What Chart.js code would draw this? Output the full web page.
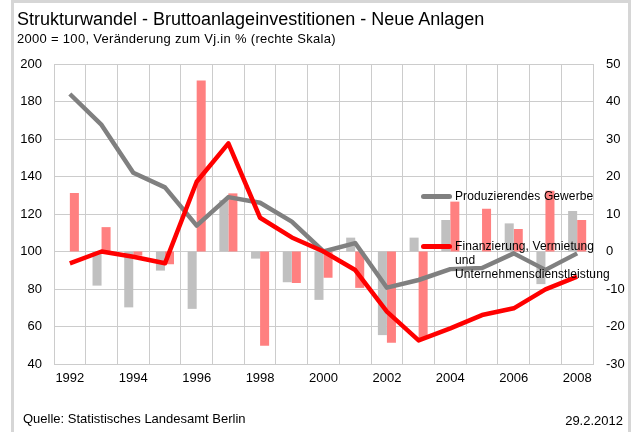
<!DOCTYPE html>
<html>
<head>
<meta charset="utf-8">
<script src="https://cdn.jsdelivr.net/npm/chart.js@4/dist/chart.umd.min.js"></script>
<style>
  html, body { margin: 0; padding: 0; background: #fff; }
  body { width: 631px; height: 432px; position: relative; overflow: hidden; font-family: "Liberation Sans", Arial, sans-serif; color: #000; }
  #frame { position: absolute; left: 11px; top: 0; width: 614px; height: 440px; border: 3px solid #d6d6d6; border-bottom: none; box-sizing: content-box; }
  #wrap { position: absolute; left: 0; top: 0; width: 631px; height: 432px; }
  .txt { position: absolute; white-space: nowrap; }
  #title { left: 17px; top: 10px; font-size: 18px; line-height: 18px; }
  #subtitle { left: 17px; top: 32px; font-size: 13px; line-height: 13px; letter-spacing: 0.3px; }
  #source { left: 23px; top: 412px; font-size: 13px; line-height: 13px; }
  #date { right: 8px; top: 414px; font-size: 13px; line-height: 13px; }
  .leg { position: absolute; left: 421px; font-size: 12px; line-height: 14px; }
  .leg .sw { position: absolute; left: 0; width: 31px; height: 5px; border-radius: 2.5px; }
  .leg .lt { position: absolute; left: 34px; white-space: normal; width: 150px; letter-spacing: 0.1px; }
</style>
</head>
<body>
<div id="wrap"><canvas id="c" width="631" height="432"></canvas></div>
<div id="frame"></div>
<div id="title" class="txt"></div>
<div id="subtitle" class="txt"></div>
<div id="source" class="txt"></div>
<div id="date" class="txt"></div>
<div id="leg1" class="leg" style="top:189px"><div class="sw" style="top:5px;background:#808080"></div><div class="lt"></div></div>
<div id="leg2" class="leg" style="top:239px"><div class="sw" style="top:5px;background:#ff0000"></div><div class="lt"></div></div>
<script>
const titleText = "Strukturwandel - Bruttoanlageinvestitionen - Neue Anlagen";
const subtitleText = "2000 = 100, Veränderung zum Vj.in % (rechte Skala)";
const sourceText = "Quelle: Statistisches Landesamt Berlin";
const dateText = "29.2.2012";

const years = ["1992","1993","1994","1995","1996","1997","1998","1999","2000","2001","2002","2003","2004","2005","2006","2007","2008"];

const seriesNameProd = "Produzierendes Gewerbe";
const seriesNameFin = "Finanzierung, Vermietung und Unternehmensdienstleistung";

// Index 2000 = 100 (left axis)
const prodIndex = [184, 167.5, 142, 134.2, 113.8, 129, 126, 115.9, 100, 104.5, 80.7, 84.8, 90.6, 91.2, 99, 90.2, 99];
const finIndex  = [93.7, 100, 97.2, 93.7, 137.2, 157.7, 118, 107.5, 100, 90.1, 67.9, 52.6, 59, 66.1, 69.7, 79.8, 86.6];

// Change to previous year in % (right axis)
const prodChange = [null, -9.1, -14.9, -5.1, -15.3, 13.7, -1.9, -8.2, -12.9, 3.7, -22.3, 3.7, 8.4, 0.2, 7.5, -8.7, 10.8];
const finChange  = [15.6, 6.5, -1.1, -3.4, 45.6, 15.5, -25.1, -8.4, -7.0, -9.7, -24.3, -23.1, 13.3, 11.4, 6.0, 16.2, 8.4];

const leftTicks = { min: 40, max: 200, step: 20 };
const rightTicks = { min: -30, max: 50, step: 10 };

document.getElementById('title').textContent = titleText;
document.getElementById('subtitle').textContent = subtitleText;
document.getElementById('source').textContent = sourceText;
document.getElementById('date').textContent = dateText;
document.querySelector('#leg1 .lt').textContent = seriesNameProd;
document.querySelector('#leg2 .lt').textContent = seriesNameFin;

const gridColor = '#cccccc';
const tickFont = { family: '"Liberation Sans", Arial, sans-serif', size: 13 };

new Chart(document.getElementById('c'), {
  data: {
    labels: years,
    datasets: [
      { type: 'line', label: seriesNameFin, data: finIndex, yAxisID: 'y', borderColor: '#ff0000', borderWidth: 4.5, pointRadius: 0, tension: 0, order: 0, borderJoinStyle: 'round' },
      { type: 'line', label: seriesNameProd, data: prodIndex, yAxisID: 'y', borderColor: '#808080', borderWidth: 4.5, pointRadius: 0, tension: 0, order: 1, borderJoinStyle: 'round' },
      { type: 'bar', label: seriesNameProd + ' (Vj. %)', data: prodChange, yAxisID: 'y1', backgroundColor: '#c0c0c0', borderWidth: 0, order: 2, barPercentage: 1, categoryPercentage: 0.57 },
      { type: 'bar', label: seriesNameFin + ' (Vj. %)', data: finChange, yAxisID: 'y1', backgroundColor: '#ff8080', borderWidth: 0, order: 3, barPercentage: 1, categoryPercentage: 0.57 }
    ]
  },
  options: {
    responsive: false,
    animation: false,
    layout: { padding: { top: 64, left: 0, right: 0, bottom: 0 } },
    plugins: { legend: { display: false }, tooltip: { enabled: false }, title: { display: false } },
    scales: {
      x: {
        type: 'category',
        offset: true,
        grid: { offset: true, color: gridColor, lineWidth: 1, drawTicks: false },
        border: { color: gridColor },
        ticks: {
          autoSkip: false, maxRotation: 0, minRotation: 0, padding: 7, color: '#000', font: tickFont,
          callback: function (value, index) { return index % 2 === 0 ? this.getLabelForValue(value) : ''; }
        },
        afterFit: (s) => { s.height = 68; }
      },
      y: {
        position: 'left', min: leftTicks.min, max: leftTicks.max,
        ticks: { stepSize: leftTicks.step, padding: 12, color: '#000', font: tickFont },
        grid: { color: gridColor, lineWidth: 1, drawTicks: false },
        border: { color: gridColor },
        afterFit: (s) => { s.width = 54; }
      },
      y1: {
        position: 'right', min: rightTicks.min, max: rightTicks.max,
        ticks: { stepSize: rightTicks.step, padding: 13, color: '#000', font: tickFont },
        grid: { display: false, drawTicks: false },
        border: { color: gridColor },
        afterFit: (s) => { s.width = 38; }
      }
    }
  }
});
</script>
</body>
</html>
